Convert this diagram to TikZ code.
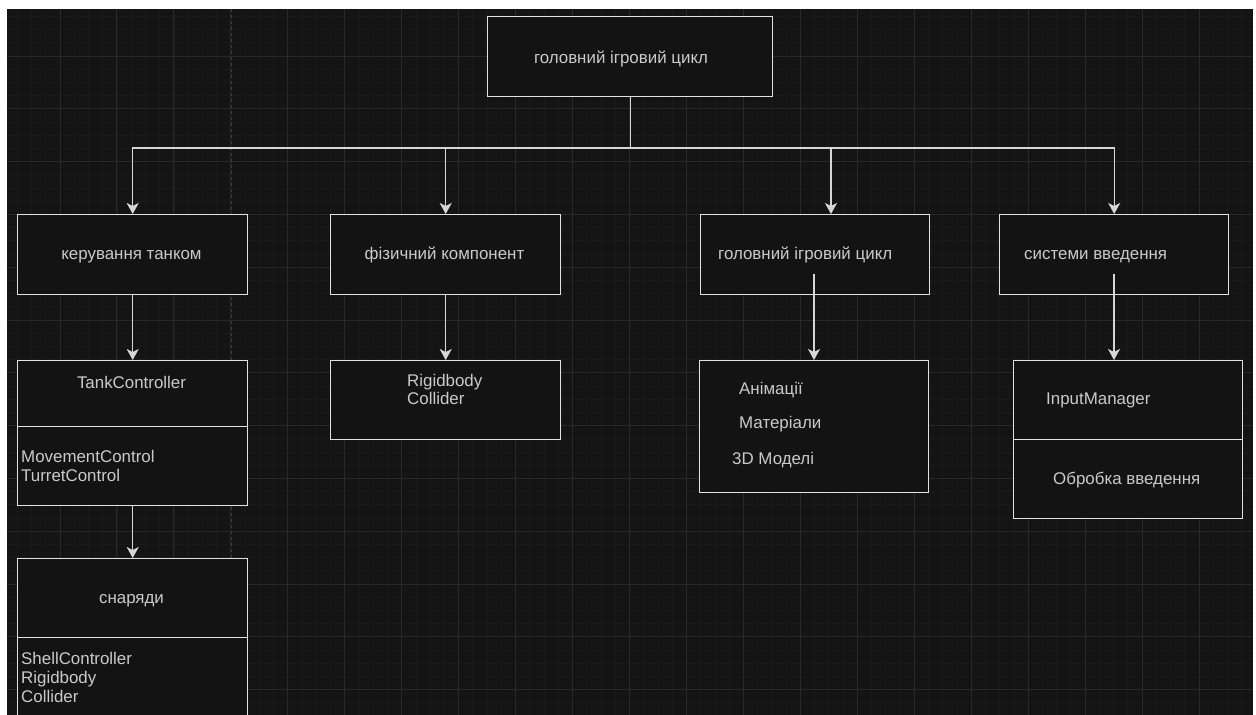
\documentclass[tikz,border=0pt]{standalone}
\usepackage{fontspec}
\setmainfont{Liberation Sans}
\usetikzlibrary{arrows.meta,calc}
\definecolor{bg}{HTML}{141414}
\definecolor{gridminor}{HTML}{1A1A1A}
\definecolor{gridmajor}{HTML}{292929}
\definecolor{pagebrk}{HTML}{3A3A3A}
\definecolor{boxline}{HTML}{E2E2E2}
\definecolor{boxfill}{HTML}{131313}
\definecolor{txtc}{HTML}{CACACA}
\definecolor{connc}{HTML}{D6D6D6}
\begin{document}
\begin{tikzpicture}[x=1pt,y=-1pt,
  box/.style={draw=boxline,line width=1.4pt,fill=boxfill,rectangle,inner sep=0pt,anchor=north west},
  txt/.style={text=txtc,font=\fontsize{16.9}{19}\selectfont,inner sep=0pt},
  conn/.style={draw=connc,line width=1.4pt,-{Stealth[length=11pt,width=12pt,inset=3pt]}}]
\useasboundingbox (0,0) rectangle (1256,715);
\clip (0,0) rectangle (1256,715);
\fill[white] (0,0) rectangle (1256,715);
\fill[bg] (7,9) rectangle (1253,715);
% grid
\begin{scope}
\clip (7,9) rectangle (1253,715);
\foreach \i in {-4,...,84} {\draw[gridminor,line width=0.8pt] ({60+14.2375*\i},9) -- ({60+14.2375*\i},715);}
\foreach \j in {-4,...,52} {\draw[gridminor,line width=0.8pt] (7,{56+13.2*\j}) -- (1253,{56+13.2*\j});}
\foreach \i in {0,...,20} {\draw[gridmajor,line width=1pt] ({60+56.95*\i},9) -- ({60+56.95*\i},715);}
\foreach \j in {0,...,12} {\draw[gridmajor,line width=1pt] (7,{56+52.8*\j}) -- (1253,{56+52.8*\j});}
\draw[pagebrk,line width=1pt,dash pattern=on 3pt off 3pt] (231,9) -- (231,715);
\end{scope}
% boxes
\node[box,minimum width=285pt,minimum height=80pt] (top) at (487,16) {};
\node[box,minimum width=230pt,minimum height=80pt] (b1) at (17,214) {};
\node[box,minimum width=230pt,minimum height=80pt] (b2) at (330,214) {};
\node[box,minimum width=229pt,minimum height=80pt] (b3) at (700,214) {};
\node[box,minimum width=229pt,minimum height=80pt] (b4) at (999,214) {};
\node[box,minimum width=230pt,minimum height=66pt] (tankA) at (17,360) {};
\node[box,minimum width=230pt,minimum height=79pt] (tankB) at (17,426) {};
\node[box,minimum width=230pt,minimum height=79pt] (shellA) at (17,558) {};
\node[box,minimum width=230pt,minimum height=100pt] (shellB) at (17,637) {};
\node[box,minimum width=230pt,minimum height=79pt] (rb) at (330,360) {};
\node[box,minimum width=229pt,minimum height=132pt] (vis) at (699,360) {};
\node[box,minimum width=229pt,minimum height=79pt] (inA) at (1013,360) {};
\node[box,minimum width=229pt,minimum height=79pt] (inB) at (1013,439) {};
% texts
\node[txt,anchor=base] (t0) at (621,63) {головний ігровий цикл};
\node[txt,anchor=base] (t1) at (131.5,259) {керування танком};
\node[txt,anchor=base] (t2) at (444.5,259) {фізичний компонент};
\node[txt,anchor=base west] (t3) at (718,259) {головний ігровий цикл};
\node[txt,anchor=base west] (t4) at (1024,259) {системи введення};
\node[txt,anchor=base] (t5) at (131.5,388) {TankController};
\node[txt,anchor=base west] (t6) at (21,462) {MovementControl};
\node[txt,anchor=base west] (t7) at (21,481) {TurretControl};
\node[txt,anchor=base] (t8) at (131.5,603) {снаряди};
\node[txt,anchor=base west] (t9) at (21,664) {ShellController};
\node[txt,anchor=base west] (t10) at (21,683) {Rigidbody};
\node[txt,anchor=base west] (t11) at (21,702) {Collider};
\node[txt,anchor=base west] (t12) at (407,386) {Rigidbody};
\node[txt,anchor=base west] (t13) at (407,404) {Collider};
\node[txt,anchor=base west] (t14) at (739,394) {Анімації};
\node[txt,anchor=base west] (t15) at (739,428) {Матеріали};
\node[txt,anchor=base west] (t16) at (732,464) {3D Моделі};
\node[txt,anchor=base west] (t17) at (1046,404) {InputManager};
\node[txt,anchor=base west] (t18) at (1053,484) {Обробка введення};
% connectors
\coordinate (bus) at (629,148);
\coordinate (b3in) at (831,214);
\draw[conn] (top.south) -- (top.south |- bus) -| (b1.north);
\draw[conn] (top.south) -- (top.south |- bus) -| (b2.north);
\draw[conn] (top.south) -- (top.south |- bus) -| (b3in);
\draw[conn] (top.south) -- (top.south |- bus) -| (b4.north);
\draw[conn] (b1.south) -- (tankA.north);
\draw[conn] (tankB.south) -- (shellA.north);
\draw[conn] (b2.south) -- (rb.north);
\coordinate (b3s) at (814,274);
\coordinate (b4s) at (1114,274);
\draw[conn] (b3s) -- (b3s |- vis.north);
\draw[conn] (b4s) -- (b4s |- inA.north);
\end{tikzpicture}
\end{document}
